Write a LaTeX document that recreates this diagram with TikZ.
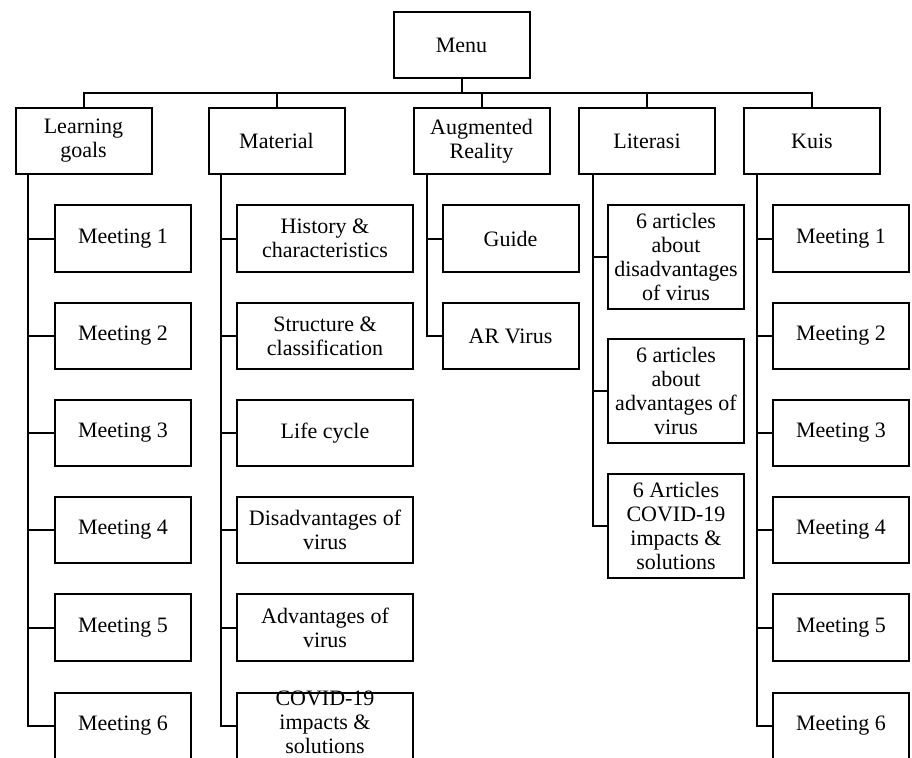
\documentclass[tikz,border=0pt]{standalone}
\usepackage{fontspec}
\setmainfont{Liberation Serif}
\tikzset{
  box/.style={draw, line width=1.5pt, inner sep=1pt, align=center,
    minimum width=102pt, minimum height=50pt,
    font=\fontsize{16.5}{18}\selectfont},
  widebox/.style={box, minimum width=132pt},
  tallbox/.style={box, minimum height=78pt},
  link/.style={line width=1.5pt},
}
\begin{document}
\begin{tikzpicture}[x=0.75pt, y=-0.75pt]
        \useasboundingbox (0,0) rectangle (912,757);%

        % Drawing the root box
        \node [box] (menu) at (461.5,45) {Menu};%

        % Drawing the five menu items
        \node [box] (goals) at (83.5,141) {Learning\\goals};%
        \node [box] (material) at (276.5,141) {Material};%
        \node [box] (ar) at (481.5,141) {Augmented\\Reality};%
        \node [box] (literasi) at (647,141) {Literasi};%
        \node [box] (kuis) at (812,141) {Kuis};%

        % Joining the items to the root
        \foreach \item in {goals,material,ar,literasi,kuis}
          \draw [link] (menu.south) -- ++(0,13.5) -| (\item.north);%

        % Meetings under learning goals and under kuis
        \foreach \i/\y in {1/238.5,2/336,3/433,4/530,5/627.5,6/726} {
          \node [box] (goal\i) at (123,\y) {Meeting \i};%
          \node [box] (quiz\i) at (841,\y) {Meeting \i};%
          \draw [link] ([xshift=10pt]goals.south west) |- (goal\i.west);%
          \draw [link] ([xshift=10.5pt]kuis.south west) |- (quiz\i.west);%
        }

        % Material topics
        \node [widebox] (history) at (325,238.5) {History \&\\characteristics};%
        \node [widebox] (structure) at (325,336) {Structure \&\\classification};%
        \node [widebox] (cycle) at (325,433) {Life cycle};%
        \node [widebox] (disadv) at (325,530) {Disadvantages of\\virus};%
        \node [widebox] (adv) at (325,627.5) {Advantages of\\virus};%
        \node [widebox, label={[name=covidtext, align=center, yshift=2.5pt,
          font=\fontsize{16.5}{18}\selectfont]center:COVID-19\\impacts \&\\solutions}]
          (covid) at (325,726) {};%
        \foreach \topic in {history,structure,cycle,disadv,adv,covid}
          \draw [link] ([xshift=10pt]material.south west) |- (\topic.west);%

        % Augmented reality pages
        \node [box] (guide) at (510.5,238.5) {Guide};%
        \node [box] (arvirus) at (510.5,336) {AR Virus};%
        \foreach \page in {guide,arvirus}
          \draw [link] ([xshift=10.5pt]ar.south west) |- (\page.west);%

        % Literasi articles
        \node [tallbox] (disart) at (676,257) {6 articles\\about\\disadvantages\\of virus};%
        \node [tallbox] (advart) at (676,390.5) {6 articles\\about\\advantages of\\virus};%
        \node [tallbox] (covart) at (676,525.5) {6 Articles\\COVID-19\\impacts \&\\solutions};%
        \foreach \art in {disart,advart,covart}
          \draw [link] ([xshift=11pt]literasi.south west) |- (\art.west);%
\end{tikzpicture}
\end{document}
